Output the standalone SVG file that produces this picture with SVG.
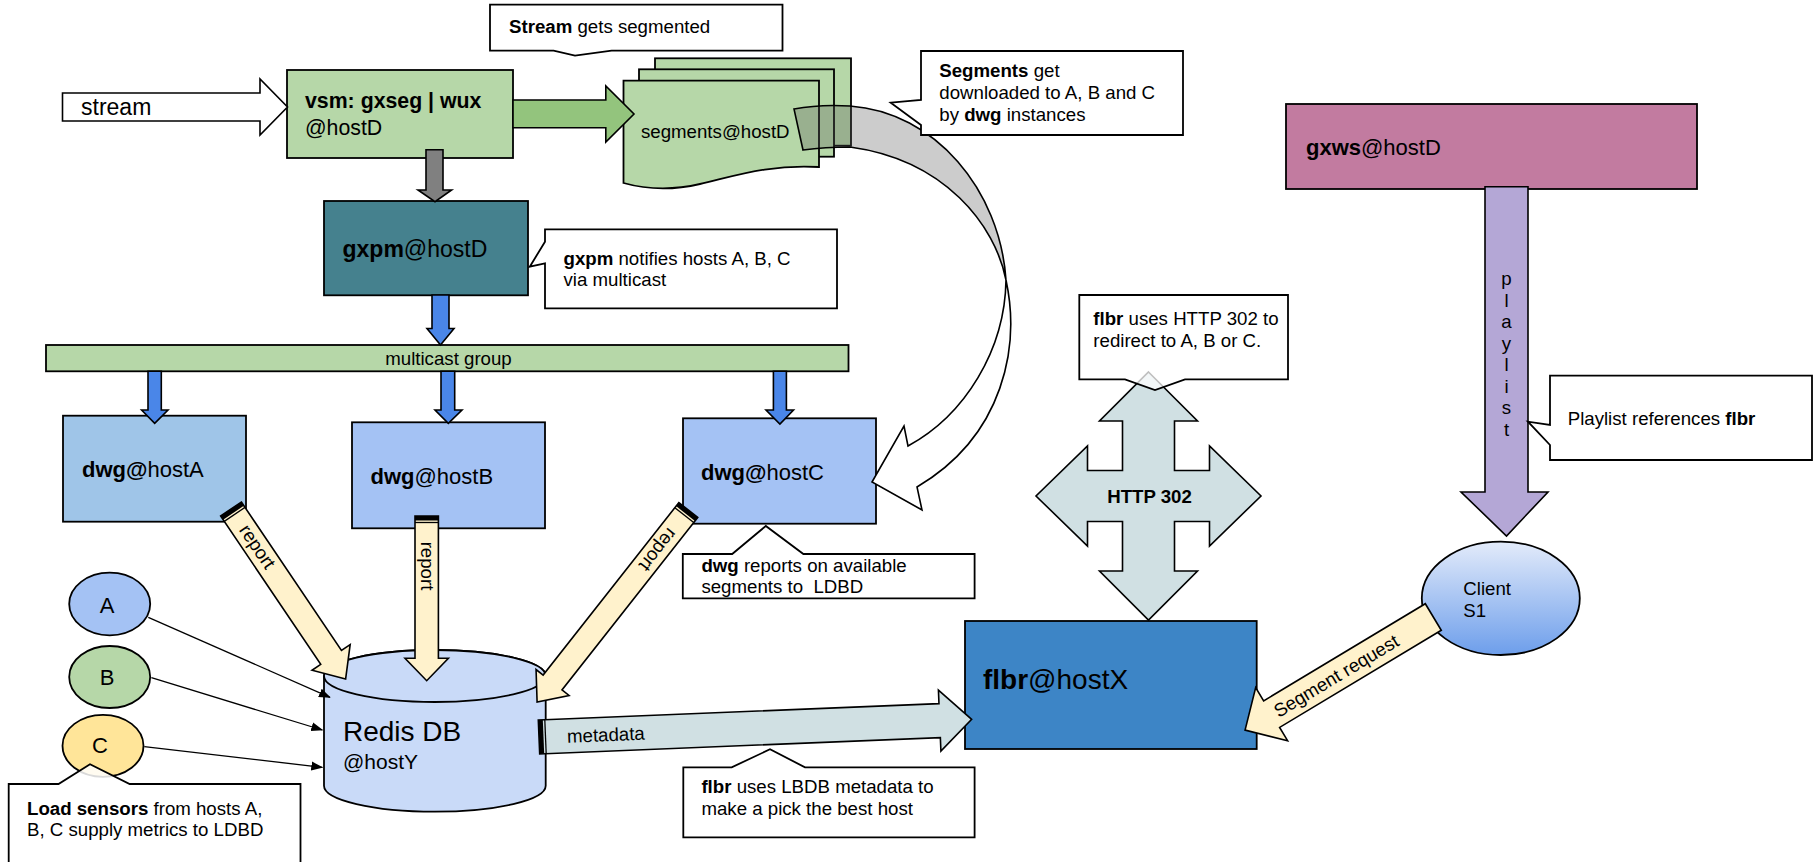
<svg xmlns="http://www.w3.org/2000/svg" width="1820" height="862" viewBox="0 0 1820 862">
<defs>
<style>
text{font-family:"Liberation Sans",Arial,sans-serif;fill:#000}
.b{font-weight:bold}
.box{stroke:#000;stroke-width:1.8}
.co{fill:#fff;stroke:#000;stroke-width:1.8;stroke-linejoin:miter}
.ct{font-size:18.67px}
.arr{stroke:#000;stroke-width:1.6;stroke-linejoin:miter}
.yl{fill:#fff2cc}
.bl{fill:#4a86e8}
.ln{stroke:#000;stroke-width:1.3;fill:none;marker-end:url(#ah)}
.mid{text-anchor:middle}
</style>
<marker id="ah" markerWidth="12" markerHeight="10" refX="11" refY="5" orient="auto" markerUnits="userSpaceOnUse"><path d="M0,0.5 L12,5 L0,9.5 Z" fill="#000"/></marker>
<linearGradient id="cg" x1="0" y1="0" x2="0" y2="1"><stop offset="0" stop-color="#e3ebfa"/><stop offset="1" stop-color="#6d9eeb"/></linearGradient>
</defs>
<rect width="1820" height="862" fill="#fff"/>

<g id="vsm">
<rect class="box" x="287" y="70" width="226" height="88" fill="#b6d7a8"/>
<text x="305" y="108" font-size="21.3" class="b">vsm: gxseg | wux</text>
<text x="305" y="135" font-size="21.3">@hostD</text>
</g>

<g id="segments">
<rect class="box" x="655" y="58.3" width="196" height="87.4" fill="#b6d7a8"/>
<rect class="box" x="639" y="69.3" width="195" height="87.4" fill="#b6d7a8"/>
<path class="box" d="M623.5,80.7 H819 V167 C770,164 735,176 700,184 C670,191 645,189 623.5,183 Z" fill="#b6d7a8"/>
<text x="641" y="138" class="ct">segments@hostD</text>
</g>

<g id="gxpm">
<rect class="box" x="324" y="201" width="204" height="94.3" fill="#45818e"/>
<text x="342.5" y="256.7" font-size="23"><tspan class="b">gxpm</tspan>@hostD</text>
</g>

<g id="multicast">
<rect class="box" x="46" y="345" width="802.5" height="26.3" fill="#b6d7a8"/>
<text x="448.5" y="365" class="ct mid">multicast group</text>
</g>

<g id="dwgA">
<rect class="box" x="63" y="415.7" width="183" height="106" fill="#9fc5e8"/>
<text x="82" y="476.7" font-size="22"><tspan class="b">dwg@</tspan>hostA</text>
</g>
<g id="dwgB">
<rect class="box" x="352" y="422.3" width="193" height="106" fill="#a4c2f4"/>
<text x="370.5" y="484" font-size="22"><tspan class="b">dwg</tspan>@hostB</text>
</g>
<g id="dwgC">
<rect class="box" x="683" y="418.3" width="193" height="105.4" fill="#a4c2f4"/>
<text x="701" y="480" font-size="22"><tspan class="b">dwg@</tspan>hostC</text>
</g>

<g id="redis">
<path class="box" d="M324,676 V785.7 A110.85,26 0 0 0 545.7,785.7 V676 A110.85,26 0 0 0 324,676 Z" fill="#c9daf8"/>
<ellipse class="box" cx="434.85" cy="676" rx="110.85" ry="26" fill="#c9daf8"/>
<text x="343" y="740.7" font-size="28">Redis DB</text>
<text x="343" y="769.3" font-size="21">@hostY</text>
</g>

<g id="sensorA">
<ellipse class="box" cx="109.7" cy="604" rx="40.5" ry="31.3" fill="#a4c2f4"/>
<text x="107" y="612.7" font-size="22" class="mid">A</text>
</g>
<g id="sensorB">
<ellipse class="box" cx="109.7" cy="677" rx="40.5" ry="31" fill="#b6d7a8"/>
<text x="107" y="685" font-size="22" class="mid">B</text>
</g>
<g id="sensorC">
<ellipse class="box" cx="103" cy="745.8" rx="40.5" ry="31" fill="#ffe599"/>
<text x="100" y="753.3" font-size="22" class="mid">C</text>
</g>

<g id="flbr">
<rect class="box" x="965" y="621" width="291.7" height="128" fill="#3d85c6"/>
<text x="983" y="689" font-size="28"><tspan class="b">flbr</tspan>@hostX</text>
</g>

<g id="client">
<ellipse class="box" cx="1500.8" cy="598.3" rx="79" ry="56.7" fill="url(#cg)"/>
<text x="1463.3" y="595" class="ct">Client</text>
<text x="1463.3" y="616.7" class="ct">S1</text>
</g>

<g id="gxws">
<rect class="box" x="1286" y="104" width="411" height="85" fill="#c27ba0"/>
<text x="1306" y="155" font-size="22"><tspan class="b">gxws</tspan>@hostD</text>
</g>

<g id="connectors">
<path class="arr" d="M62.5,93 H260 V79 L287.5,107 L260,135 V121 H62.5 Z" fill="#fff"/>
<text x="81" y="115" font-size="23">stream</text>
<path class="arr" d="M513,100 H605.8 V86 L634,114 L605.8,142 V127.7 H513 Z" fill="#93c47d"/>
<path class="arr" d="M426,149.7 H443 V190 H451.6 L435,201.7 L418,190 H426 Z" fill="#808080"/>
<path class="arr bl" d="M432,295 H449 V328.5 H454 L440.5,345 L427,328.5 H432 Z"/>
<path class="arr bl" d="M148,371.3 H161.3 V410 H168 L154.7,423.3 L141.6,410 H148 Z"/>
<path class="arr bl" d="M441,371.3 H454.7 V410 H462 L448.3,423.3 L435,410 H441 Z"/>
<path class="arr bl" d="M773.4,371.3 H786.4 V410 H793.5 L779.9,424 L766,410 H773.4 Z"/>

<path class="arr" d="M794,109 Q820,104 850,106 C935,112 1000,190 1006,280 C995,225 945,160 850,147 Q825,147 803,150 Z" fill="#555" fill-opacity="0.3"/>
<path class="arr" d="M1006,280 C1020,345 1005,435 917,487 L922,510 L872,482 L904,426 L908,446 C965,415 1005,350 1006,280 Z" fill="#fff"/>

<line class="ln" x1="148.3" y1="617.3" x2="330" y2="697.3"/>
<line class="ln" x1="151.4" y1="677.7" x2="322.3" y2="730"/>
<line class="ln" x1="144.3" y1="746.7" x2="322.3" y2="767.3"/>

<g transform="translate(231,509) rotate(56)">
<path class="arr yl" d="M0,-12.5 H179 V-23 L205,0 L179,23 V12.5 H0 Z"/>
<rect x="0" y="-12.5" width="4.5" height="25"/>
<line x1="6.5" y1="-12.5" x2="6.5" y2="12.5" stroke="#000" stroke-width="1.3"/>
<text x="46" y="5.5" class="ct mid">report</text>
</g>
<g transform="translate(426.7,516) rotate(90)">
<path class="arr yl" d="M0,-11.7 H142.3 V-21.7 L164.7,0 L142.3,21.7 V11.7 H0 Z"/>
<rect x="0" y="-11.7" width="4.5" height="23.4"/>
<line x1="6.5" y1="-11.7" x2="6.5" y2="11.7" stroke="#000" stroke-width="1.3"/>
<text x="50" y="5.5" class="ct mid">report</text>
</g>
<g transform="translate(688.3,510) rotate(128.2)">
<path class="arr yl" d="M0,-12 H219.5 V-21 L244.5,0 L219.5,21 V12 H0 Z"/>
<rect x="0" y="-12" width="4.5" height="24"/>
<line x1="6.5" y1="-12" x2="6.5" y2="12" stroke="#000" stroke-width="1.3"/>
<text x="50" y="5.5" class="ct mid">report</text>
</g>
<g transform="translate(539,737) rotate(-2.34)">
<path class="arr" d="M0,-17 H401 V-30.5 L433,0 L401,30.5 V17 H0 Z" fill="#d0e0e3"/>
<rect x="0" y="-17" width="4.5" height="34"/>
<line x1="6.5" y1="-17" x2="6.5" y2="17" stroke="#000" stroke-width="1.3"/>
<text x="28" y="7" class="ct">metadata</text>
</g>
<g transform="translate(1433.3,617) rotate(149)">
<path class="arr yl" d="M0,-15.5 H188.6 V-31 L219.6,0 L188.6,31 V15.5 H0 Z"/>
</g>
<text transform="translate(1336.7,676.7) rotate(-31)" y="5.5" class="ct mid">Segment request</text>

<path class="arr" d="M1485,186.7 H1528 V492 H1548 L1506.5,536 L1461,492 H1485 Z" fill="#b4a7d6"/>
<g class="ct mid">
<text x="1506.5" y="285">p</text>
<text x="1506.5" y="306.5">l</text>
<text x="1506.5" y="328">a</text>
<text x="1506.5" y="349.5">y</text>
<text x="1506.5" y="371">l</text>
<text x="1506.5" y="392.5">i</text>
<text x="1506.5" y="414">s</text>
<text x="1506.5" y="435.5">t</text>
</g>

<path class="arr" d="M1148.5,372 L1197.5,421 H1174.5 V470.5 H1209.5 V446 L1261,496 L1209.5,546 V521.5 H1174.5 V571 H1197.5 L1148.5,620 L1099.5,571 H1122.5 V521.5 H1087.5 V546 L1036,496 L1087.5,446 V470.5 H1122.5 V421 H1099.5 Z" fill="#d0e0e3"/>
<text x="1149.5" y="503" class="ct b mid">HTTP 302</text>
</g>

<g id="callout-stream">
<path class="co" d="M490,4.7 H782.5 V50.7 H611.6 L575,55.7 L553.6,50.7 H490 Z"/>
<text x="509" y="33" class="ct"><tspan class="b">Stream</tspan> gets segmented</text>
</g>
<g id="callout-segments">
<path class="co" d="M921,51 H1183 V135 H921 V125 L890.7,102.7 L921,100 Z"/>
<text x="939.3" y="77.3" class="ct"><tspan class="b">Segments</tspan> get</text>
<text x="939.3" y="99.3" class="ct">downloaded to A, B and C</text>
<text x="939.3" y="120.7" class="ct">by <tspan class="b">dwg</tspan> instances</text>
</g>
<g id="callout-gxpm">
<path class="co" d="M545,229.3 H837 V308.3 H545 V263.3 L529.8,266.7 L545,241.7 Z"/>
<text x="563.5" y="265" class="ct"><tspan class="b">gxpm</tspan> notifies hosts A, B, C</text>
<text x="563.5" y="286" class="ct">via multicast</text>
</g>
<g id="callout-http">
<path class="co" d="M1079.3,295 H1288 V379.3 H1185 L1155,390 L1125,379.3 H1079.3 Z" fill-opacity="0.75"/>
<text x="1093.3" y="325" class="ct"><tspan class="b">flbr</tspan> uses HTTP 302 to</text>
<text x="1093.3" y="346.7" class="ct">redirect to A, B or C.</text>
</g>
<g id="callout-dwg">
<path class="co" d="M682.8,554 H732.2 L765.8,526 L803.4,554 H974.6 V598.3 H682.8 Z"/>
<text x="701.4" y="571.7" class="ct"><tspan class="b">dwg</tspan> reports on available</text>
<text x="701.4" y="593.3" class="ct" xml:space="preserve">segments to  LDBD</text>
</g>
<g id="callout-flbr">
<path class="co" d="M683.3,767.3 H731.7 L770,749.3 L805,767.3 H974.6 V837.3 H683.3 Z"/>
<text x="701.4" y="793.3" class="ct"><tspan class="b">flbr</tspan> uses LBDB metadata to</text>
<text x="701.4" y="815" class="ct">make a pick the best host</text>
</g>
<g id="callout-playlist">
<path class="co" d="M1550,375.7 H1812 V460 H1550 V445 L1528,421.7 L1550,425 Z"/>
<text x="1567.7" y="425" class="ct">Playlist references <tspan class="b">flbr</tspan></text>
</g>
<g id="callout-sensors">
<path class="co" d="M8.7,784 H58.5 L90,764.3 L129.7,784 H300.5 V880 H8.7 Z" fill-opacity="0.85"/>
<text x="27" y="815" class="ct"><tspan class="b">Load sensors</tspan> from hosts A,</text>
<text x="27" y="836" class="ct">B, C supply metrics to LDBD</text>
</g>
</svg>
